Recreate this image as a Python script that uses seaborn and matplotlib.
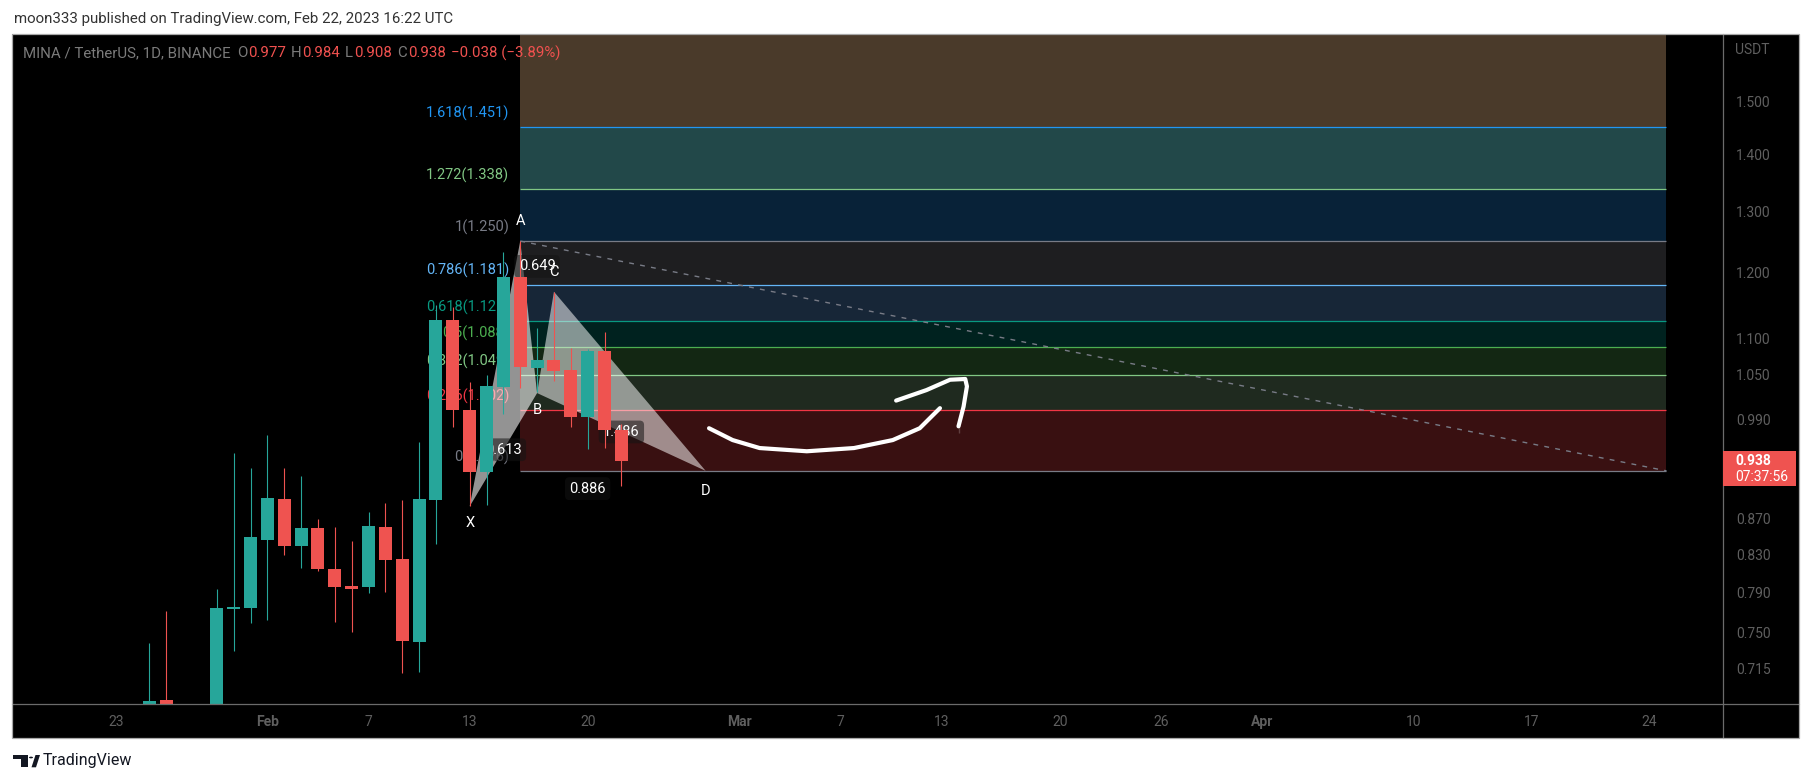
#!/usr/bin/env python3
# plot.py - MINA/USDT 1D chart with fib retracement, XABCD pattern and a drawn arrow
import numpy as np
import pandas as pd
import matplotlib
matplotlib.use("Agg")
import matplotlib.pyplot as plt
import matplotlib.dates as mdates
from matplotlib.patches import Polygon, Rectangle, Circle
from matplotlib.lines import Line2D
from matplotlib.ticker import NullLocator
import seaborn as sns

W, H = 1813, 783

# daily candles, Binance MINA/USDT
dates = pd.date_range("2023-01-25", "2023-02-22", freq="D")
opens = [0.665, 0.687, 0.668, 0.655, 0.662, 0.773, 0.774, 0.846, 0.893, 0.840,
         0.859, 0.815, 0.797, 0.796, 0.861, 0.825, 0.741, 0.892, 1.128, 1.003,
         0.925, 1.033, 1.193, 1.059, 1.070, 1.057, 0.994, 1.083, 0.977]
highs = [0.740, 0.771, 0.678, 0.676, 0.794, 0.948, 0.930, 0.971, 0.930, 0.920,
         0.870, 0.861, 0.845, 0.878, 0.888, 0.891, 0.961, 1.150, 1.147, 1.040,
         1.050, 1.232, 1.250, 1.116, 1.170, 1.087, 1.085, 1.110, 0.984]
lows = [0.655, 0.650, 0.640, 0.645, 0.655, 0.732, 0.759, 0.762, 0.830, 0.816,
        0.812, 0.760, 0.750, 0.789, 0.791, 0.711, 0.712, 0.842, 0.980, 0.884,
        0.886, 0.998, 1.032, 1.027, 1.041, 0.981, 0.953, 0.954, 0.908]
closes = [0.686, 0.668, 0.655, 0.662, 0.774, 0.775, 0.849, 0.894, 0.840, 0.859,
          0.815, 0.796, 0.794, 0.862, 0.824, 0.742, 0.893, 1.128, 1.002, 0.925,
          1.035, 1.193, 1.061, 1.070, 1.055, 0.994, 1.083, 0.977, 0.938]

last_price = 0.938
countdown = "07:37:56"

# fib retracement drawing
fib_start = "2023-02-16"
fib_end = "2023-04-25"
fib_ratios = ["0", "0.236", "0.382", "0.5", "0.618", "0.786", "1", "1.272", "1.618"]
fib_prices = [0.926, 1.002, 1.049, 1.088, 1.126, 1.181, 1.250, 1.338, 1.451]
fib_line_colors = ["#787B86", "#F23645", "#81C784", "#4CAF50", "#089981",
                   "#64B5F6", "#787B86", "#81C784", "#2196F3"]
# band above each level (last one runs to the top of the pane)
fib_band_colors = ["#391011", "#1f2a1f", "#132713", "#00221f", "#172637",
                   "#1e1e20", "#082238", "#224849", "#4a3a2a"]

# XABCD pattern
pattern_names = ["X", "A", "B", "C", "D"]
pattern_dates = ["2023-02-13", "2023-02-16", "2023-02-17", "2023-02-18", "2023-02-27"]
pattern_prices = [0.884, 1.250, 1.025, 1.170, 0.926]
ratio_pairs = [(0, 2), (1, 3), (2, 4), (0, 4)]
ratio_texts = ["0.613", "0.649", "1.486", "0.886"]

# hand drawn arrow (days after Jan 25, price)
stroke1_days = [33.2, 34.6, 36.2, 39.0, 41.8, 44.1, 45.7, 46.9]
stroke1_prices = [0.979, 0.964, 0.954, 0.950, 0.954, 0.964, 0.979, 1.005]
stroke2_days = [44.3, 46.1, 47.5, 48.4, 48.5, 48.3, 48.0, 48.0]
stroke2_prices = [1.015, 1.029, 1.043, 1.044, 1.034, 1.007, 0.990, 0.973]

# axes
price_ticks = [1.500, 1.400, 1.300, 1.200, 1.100, 1.050, 0.990,
               0.870, 0.830, 0.790, 0.750, 0.715]
time_ticks = ["2023-01-23", "2023-02-01", "2023-02-07", "2023-02-13", "2023-02-20",
              "2023-03-01", "2023-03-07", "2023-03-13", "2023-03-20", "2023-03-26",
              "2023-04-01", "2023-04-10", "2023-04-17", "2023-04-24"]
time_labels = ["23", "Feb", "7", "13", "20", "Mar", "7", "13", "20", "26",
               "Apr", "10", "17", "24"]
y_range = (0.683, 1.638)
x_range_days = (-8.15, 93.37)

UP, DOWN = "#26A69A", "#EF5350"
AXIS_TXT = "#5f5f5f"
GRID_LINE = "#6b6b6b"

sns.set_style("dark")
plt.rcParams["font.family"] = ["Roboto", "DejaVu Sans"]


def fx(px):
    return px / W


def fy(py):
    return 1 - py / H


fig = plt.figure(figsize=(W / 100, H / 100), dpi=100)
fig.patch.set_facecolor("white")

# black chart pane
pane = fig.add_axes([fx(12), fy(738), fx(1799) - fx(12), fy(34) - fy(738)])
pane.set_facecolor("black")
pane.set_xticks([])
pane.set_yticks([])
for s in pane.spines.values():
    s.set_visible(False)

ax = fig.add_axes([fx(12), fy(704), fx(1723.3) - fx(12), fy(34) - fy(704)])
ax.set_facecolor("none")
ax.set_yscale("log")
ax.grid(False)
for s in ax.spines.values():
    s.set_visible(False)

xd = mdates.date2num(dates)
day0 = xd[0]

# fib bands, lines, labels
fx0 = mdates.date2num(pd.Timestamp(fib_start))
fx1 = mdates.date2num(pd.Timestamp(fib_end))
band_tops = fib_prices[1:] + [y_range[1] * 1.05]
for lo, hi, c in zip(fib_prices, band_tops, fib_band_colors):
    ax.fill_between([fx0, fx1], lo, hi, color=c, lw=0, zorder=1)
for r, p, c in zip(fib_ratios, fib_prices, fib_line_colors):
    ax.hlines(p, fx0, fx1, color=c, lw=0.9, zorder=2)
    ax.annotate(f"{r}({p:.3f})", xy=(fx0, p), xytext=(-11, 14),
                textcoords="offset pixels", ha="right", va="center",
                color=c, fontsize=10.5, zorder=2)

# fib trend line (dashed)
sns.lineplot(x=[fx0, fx1], y=[fib_prices[6], fib_prices[0]], ax=ax,
             color="#787B86", lw=1, linestyle=(0, (3.5, 4.5)), zorder=2)

# XABCD triangles
pxs = mdates.date2num(pd.to_datetime(pattern_dates))
pts = list(zip(pxs, pattern_prices))
ax.add_patch(Polygon([pts[0], pts[1], pts[2]], closed=True, fc="white",
                     alpha=0.58, lw=0, zorder=3))
ax.add_patch(Polygon([pts[2], pts[3], pts[4]], closed=True, fc="white",
                     alpha=0.52, lw=0, zorder=3))
for (i, j), t in zip(ratio_pairs, ratio_texts):
    mx = (pxs[i] + pxs[j]) / 2
    my = np.sqrt(pattern_prices[i] * pattern_prices[j])
    ax.text(mx, my, t, ha="center", va="center", color="white", fontsize=10.5,
            zorder=4, bbox=dict(boxstyle="round,pad=0.3", fc="#141414",
                                ec="none", alpha=0.55))

# candles
o, h, l, c = map(np.asarray, (opens, highs, lows, closes))
cols = np.where(c >= o, UP, DOWN)
ax.vlines(xd, l, h, colors=cols, lw=0.8, zorder=5)
body_lo = np.minimum(o, c)
body_h = np.maximum(np.abs(c - o), 0.0025)
ax.bar(xd, body_h, bottom=body_lo, width=0.77, color=cols, lw=0, zorder=6)

# pattern point letters
letter_off = {"X": -17, "A": 20, "B": -17, "C": 20, "D": -20}
for n, px_, pp in zip(pattern_names, pxs, pattern_prices):
    ax.annotate(n, xy=(px_, pp), xytext=(0, letter_off[n]),
                textcoords="offset pixels", ha="center", va="center",
                color="white", fontsize=10.5, zorder=7)

# arrow strokes
for d, p in [(stroke1_days, stroke1_prices), (stroke2_days, stroke2_prices)]:
    sns.lineplot(x=day0 + np.asarray(d), y=p, sort=False, ax=ax, color="white",
                 lw=3, zorder=8, solid_capstyle="round", solid_joinstyle="round")

ax.set_xlim(day0 + x_range_days[0], day0 + x_range_days[1])
ax.set_ylim(*y_range)

# price scale
ax.yaxis.tick_right()
ax.set_yticks(price_ticks)
ax.set_yticklabels([f"{p:.3f}" for p in price_ticks])
ax.yaxis.set_minor_locator(NullLocator())
ax.tick_params(axis="y", length=0, pad=9, labelsize=10, labelcolor=AXIS_TXT)

# time scale
ax.set_xticks(mdates.date2num(pd.to_datetime(time_ticks)))
ax.set_xticklabels(time_labels)
ax.tick_params(axis="x", length=0, pad=8, labelsize=10, labelcolor=AXIS_TXT)
for lab in ax.get_xticklabels():
    if lab.get_text() in ("Feb", "Mar", "Apr"):
        lab.set_fontweight("bold")
ax.set_xlabel("")
ax.set_ylabel("")

fig.text(fx(1735), fy(50), "USDT", color=AXIS_TXT, fontsize=10, ha="left", va="center")

# pane separators and border
fig.add_artist(Line2D([fx(12), fx(1799)], [fy(704), fy(704)], color=GRID_LINE, lw=0.9))
fig.add_artist(Line2D([fx(1723.3), fx(1723.3)], [fy(34), fy(738)], color=GRID_LINE, lw=0.9))
fig.add_artist(Rectangle((fx(12), fy(738)), fx(1799) - fx(12), fy(34) - fy(738),
                         fill=False, ec="#a8a8a8", lw=0.9, transform=fig.transFigure,
                         zorder=20))

# last price label
y_disp = ax.transData.transform((fx0, last_price))[1]
fig.add_artist(Rectangle((fx(1723.3), (y_disp - 25.3) / H), (1796 - 1723.3) / W, 35 / H,
                         fc=DOWN, ec="none", transform=fig.transFigure, zorder=15))
fig.text(fx(1735), (y_disp + 0.5) / H, f"{last_price:.3f}", color="white",
         fontsize=10, fontweight="bold", ha="left", va="center", zorder=16)
fig.text(fx(1735), (y_disp - 15.5) / H, countdown, color="white",
         fontsize=10, ha="left", va="center", zorder=16)

# header texts
renderer = fig.canvas.get_renderer()


def draw_pieces(x_px, y_px, pieces, size):
    for s, col, gap in pieces:
        t = fig.text(fx(x_px), fy(y_px), s, color=col, fontsize=size,
                     ha="left", va="center", zorder=25)
        x_px += t.get_window_extent(renderer=renderer).width + gap


GRAY, RED = "#7b7b7b", "#F0514F"
legend_pieces = [("MINA / TetherUS, 1D, BINANCE", GRAY, 6),
                 ("O", GRAY, 1), ("0.977", RED, 5),
                 ("H", GRAY, 1), ("0.984", RED, 5),
                 ("L", GRAY, 1), ("0.908", RED, 5),
                 ("C", GRAY, 1), ("0.938", RED, 5),
                 ("\u22120.038 (\u22123.89%)", RED, 0)]
draw_pieces(23, 53, legend_pieces, 10.8)

fig.text(fx(14), fy(18.5), "moon333 published on TradingView.com, Feb 22, 2023 16:22 UTC",
         color="#333333", fontsize=10.8, ha="left", va="center")

# footer logo
logo = "#131722"
fig.add_artist(Rectangle((fx(12.7), fy(759)), fx(28.3) - fx(12.7), 4 / H, fc=logo,
                         ec="none", transform=fig.transFigure))
fig.add_artist(Rectangle((fx(20.7), fy(767.3)), fx(28.3) - fx(20.7), 12.3 / H, fc=logo,
                         ec="none", transform=fig.transFigure))
fig.add_artist(Circle((fx(31), fy(757.5)), 2.0 / W, fc=logo, ec="none",
                      transform=fig.transFigure))
fig.add_artist(Polygon([(fx(31.5), fy(767.3)), (fx(36), fy(767.3)),
                        (fx(40), fy(755)), (fx(35.5), fy(755))],
                       closed=True, fc=logo, ec="none", transform=fig.transFigure))
fig.text(fx(43), fy(761), "TradingView", color=logo, fontsize=11.5,
         ha="left", va="center")

fig.savefig("out.png", dpi=100, facecolor="white")
